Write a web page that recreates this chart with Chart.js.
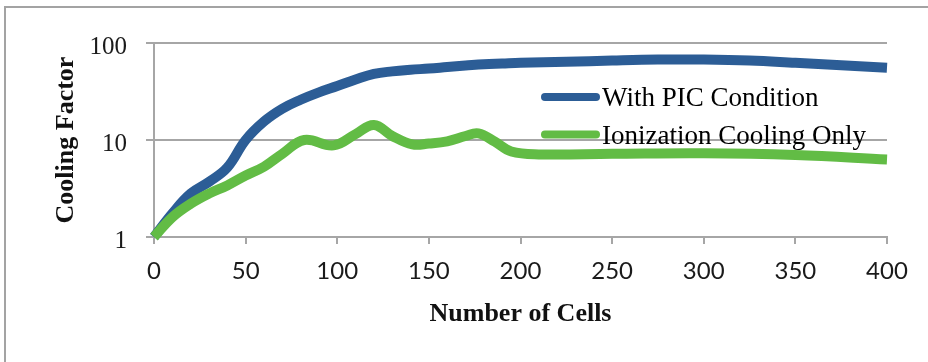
<!DOCTYPE html>
<html>
<head>
<meta charset="utf-8">
<script src="https://cdn.jsdelivr.net/npm/chart.js@4/dist/chart.umd.min.js"></script>
<style>
  html, body { margin: 0; padding: 0; background: #fff; }
  #wrap { position: relative; width: 928px; height: 362px; overflow: hidden; }
  #wrap canvas { position: absolute; left: 0; top: 0; }
  #frame {
    position: absolute; left: 4px; top: 6px; width: 960px; height: 420px;
    border-left: 2px solid #a3a3a3; border-top: 2px solid #a3a3a3;
    pointer-events: none;
  }
</style>
</head>
<body>
<div id="wrap">
  <canvas id="chart" width="928" height="362"></canvas>
  <div id="frame"></div>
</div>
<script>
// Series names
const seriesNames = ['With PIC Condition', 'Ionization Cooling Only'];

// With PIC Condition: cooling factor vs number of cells
const picCells  = [0, 10, 20, 30, 40, 50, 60, 70, 80, 90, 100, 110, 120, 130, 140, 150, 160, 170, 180, 190, 200, 225, 250, 275, 300, 325, 350, 375, 400];
const picFactor = [1.0, 1.75, 2.8, 3.7, 5.2, 10.0, 15.5, 21.0, 26.0, 31.0, 36.0, 42.0, 48.0, 51.0, 53.0, 54.5, 56.5, 58.5, 60.5, 61.5, 62.5, 64.0, 66.0, 67.5, 67.5, 66.0, 62.5, 59.0, 55.5];

// Ionization cooling only
const ionCells  = [0, 10, 20, 30, 40, 50, 60, 70, 82, 98, 110, 120, 130, 141, 150, 160, 170, 177, 186, 195, 210, 250, 300, 350, 400];
const ionFactor = [1.0, 1.6, 2.2, 2.8, 3.4, 4.3, 5.3, 7.2, 10.0, 8.8, 11.5, 14.3, 11.0, 9.0, 9.2, 9.7, 11.0, 11.7, 9.6, 7.6, 7.1, 7.2, 7.3, 7.0, 6.3];

// Axis ticks
const xTicks = [0, 50, 100, 150, 200, 250, 300, 350, 400];
const yTicks = [1, 10, 100];

const seriesColors = ['#2c5d96', '#62bc45'];
const gridColor = '#a6a6a6';

const toPoints = (xs, ys) => xs.map((x, i) => ({ x: x, y: ys[i] }));

// Legend drawn inside the plot area, on the right
const insideLegend = {
  id: 'insideLegend',
  afterDraw(chart, args, opts) {
    const ctx = chart.ctx;
    ctx.save();
    ctx.font = opts.font;
    ctx.textBaseline = 'middle';
    ctx.textAlign = 'left';
    ctx.lineCap = 'round';
    chart.data.datasets.forEach((ds, i) => {
      const y = opts.y + i * opts.rowGap;
      ctx.strokeStyle = ds.borderColor;
      ctx.lineWidth = opts.lineWidth;
      ctx.beginPath();
      ctx.moveTo(opts.x, y);
      ctx.lineTo(opts.x + opts.sampleLen, y);
      ctx.stroke();
      ctx.fillStyle = opts.color;
      ctx.fillText(ds.label, opts.x + opts.sampleLen + opts.gap, y + opts.textShift);
    });
    ctx.restore();
  }
};

new Chart(document.getElementById('chart'), {
  type: 'line',
  data: {
    datasets: [
      {
        label: seriesNames[0],
        data: toPoints(picCells, picFactor),
        borderColor: seriesColors[0],
        backgroundColor: seriesColors[0],
        borderWidth: 10,
        pointRadius: 0,
        tension: 0.4,
        clip: false,
        order: 2
      },
      {
        label: seriesNames[1],
        data: toPoints(ionCells, ionFactor),
        borderColor: seriesColors[1],
        backgroundColor: seriesColors[1],
        borderWidth: 10,
        pointRadius: 0,
        tension: 0.4,
        clip: false,
        order: 1
      }
    ]
  },
  options: {
    responsive: false,
    devicePixelRatio: 1,
    animation: false,
    events: [],
    layout: { padding: { left: 0, right: 41, top: 43, bottom: 0 } },
    plugins: {
      legend: { display: false },
      tooltip: { enabled: false },
      insideLegend: {
        x: 545, y: 97, rowGap: 37.5, sampleLen: 51, gap: 6,
        lineWidth: 8, textShift: 2,
        font: '27px "Liberation Serif", serif', color: '#000'
      }
    },
    scales: {
      x: {
        type: 'linear',
        min: 0, max: 400,
        afterBuildTicks: (scale) => { scale.ticks = xTicks.map(v => ({ value: v })); },
        afterFit: (scale) => { scale.height = 125; },
        grid: { display: true, drawOnChartArea: false, drawTicks: true, tickLength: 7, color: gridColor, lineWidth: 2 },
        border: { display: true, color: gridColor, width: 2 },
        ticks: {
          padding: 13,
          color: '#1a1a1a',
          maxRotation: 0,
          font: { family: 'Lato, "Open Sans", sans-serif', size: 24 },
          callback: (v) => String(v)
        },
        title: {
          display: true,
          text: 'Number of Cells',
          color: '#111',
          font: { family: '"Liberation Serif", serif', size: 26, weight: 'bold' },
          padding: { top: 0, bottom: 32 }
        }
      },
      y: {
        type: 'logarithmic',
        min: 1, max: 100,
        afterBuildTicks: (scale) => { scale.ticks = yTicks.map(v => ({ value: v })); },
        afterFit: (scale) => { scale.width = 154; },
        grid: { display: true, drawOnChartArea: true, drawTicks: true, tickLength: 8, color: gridColor, lineWidth: 2 },
        border: { display: true, color: gridColor, width: 2 },
        ticks: {
          padding: 19,
          labelOffset: 4,
          color: '#1a1a1a',
          font: { family: '"Liberation Serif", serif', size: 25 },
          callback: (v) => String(v)
        },
        title: {
          display: true,
          text: 'Cooling Factor',
          color: '#111',
          font: { family: '"Liberation Serif", serif', size: 26, weight: 'bold' },
          padding: { top: 51, bottom: 0 }
        }
      }
    }
  },
  plugins: [insideLegend]
});
</script>
</body>
</html>
